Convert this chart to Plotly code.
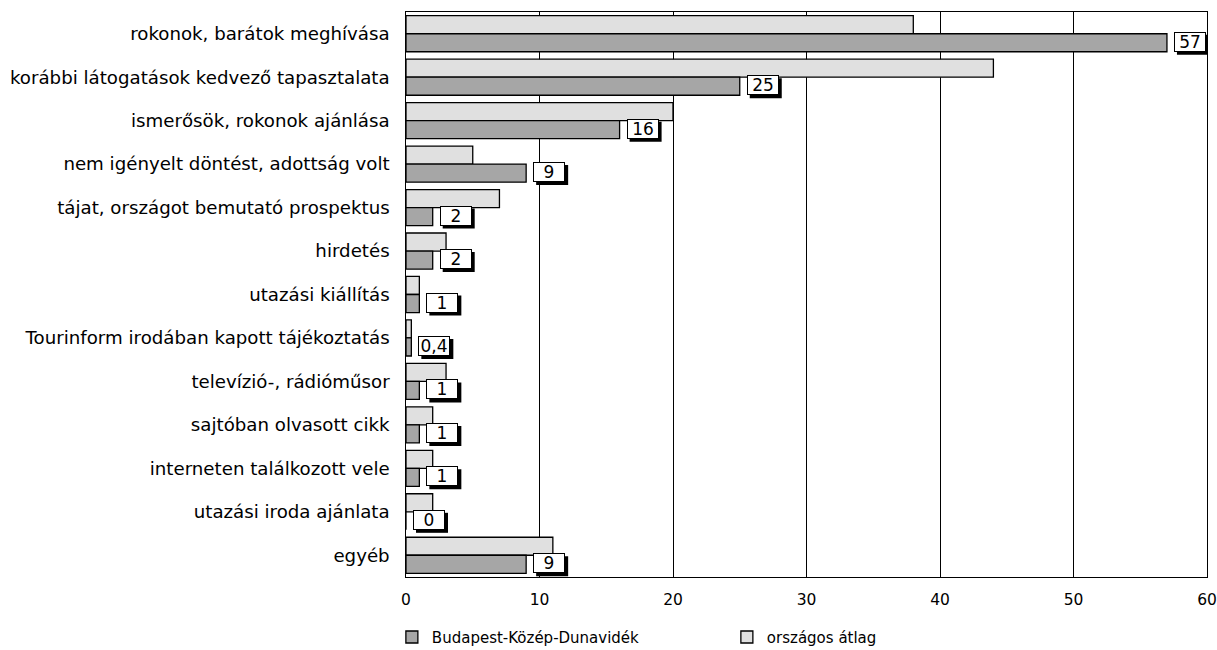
import plotly.graph_objects as go

categories = [
    "rokonok, barátok meghívása",
    "korábbi látogatások kedvező tapasztalata",
    "ismerősök, rokonok ajánlása",
    "nem igényelt döntést, adottság volt",
    "tájat, országot bemutató prospektus",
    "hirdetés",
    "utazási kiállítás",
    "Tourinform irodában kapott tájékoztatás",
    "televízió-, rádióműsor",
    "sajtóban olvasott cikk",
    "interneten találkozott vele",
    "utazási iroda ajánlata",
    "egyéb",
]
budapest = [57, 25, 16, 9, 2, 2, 1, 0.4, 1, 1, 1, 0, 9]
budapest_labels = ["57", "25", "16", "9", "2", "2", "1", "0,4", "1", "1", "1", "0", "9"]
orszagos = [38, 44, 20, 5, 7, 3, 1, 0.4, 3, 2, 2, 2, 11]

FONT = "DejaVu Sans"
fig = go.Figure()
fig.add_trace(go.Bar(
    y=categories, x=orszagos, orientation="h", name="országos átlag",
    marker=dict(color="#e0e0e0", line=dict(color="black", width=1.3)),
    legendrank=2,
))
fig.add_trace(go.Bar(
    y=categories, x=budapest, orientation="h", name="Budapest-Közép-Dunavidék",
    marker=dict(color="#a6a6a6", line=dict(color="black", width=1.3)),
    legendrank=1,
))

BOX_W, BOX_H = 32, 20
for cat, v, lab in zip(categories, budapest, budapest_labels):
    # drop shadow of the value box
    fig.add_shape(type="rect", xref="x", yref="y",
                  xsizemode="pixel", ysizemode="pixel",
                  xanchor=v, yanchor=cat,
                  x0=7 + 3, x1=7 + 3 + BOX_W,
                  y0=-8 - BOX_H / 2 - 3, y1=-8 + BOX_H / 2 - 3,
                  fillcolor="black", line=dict(width=0), layer="above")
    fig.add_annotation(text=lab, x=v, y=cat, xanchor="left", yanchor="middle",
                       showarrow=False, xshift=7, yshift=-8,
                       font=dict(family=FONT, size=17, color="black"),
                       width=BOX_W - 4, height=BOX_H - 4, borderpad=1, borderwidth=1,
                       bgcolor="white", bordercolor="black", align="center")

fig.update_layout(
    width=1217, height=650,
    margin=dict(l=406, r=10, t=12, b=73, autoexpand=False),
    paper_bgcolor="white", plot_bgcolor="white",
    barmode="group", bargap=0.17, bargroupgap=0,
    font=dict(family=FONT, size=16, color="black"),
    showlegend=True,
    legend=dict(orientation="h", xref="container", yref="container",
                x=0.322, xanchor="left", y=0.045, yanchor="top",
                font=dict(family=FONT, size=15), entrywidth=290,
                traceorder="normal", itemwidth=30),
    xaxis=dict(range=[0, 60], tickvals=[0, 10, 20, 30, 40, 50, 60],
               showgrid=True, gridcolor="black", gridwidth=1.3,
               showline=True, linecolor="black", linewidth=1.3, mirror=True,
               zeroline=False, ticks="", automargin=False,
               ticklabeloverflow="allow", ticklabelstandoff=8,
               tickfont=dict(family=FONT, size=15.5)),
    yaxis=dict(autorange="reversed", showline=True, linecolor="black", linewidth=1.3,
               mirror=True, ticks="", automargin=False,
               tickfont=dict(family=FONT, size=18.2), ticksuffix="  "),
)
fig.write_html("out.html", config={"displayModeBar": False},
               post_script="document.body.style.margin='0';document.body.style.overflow='hidden';")
